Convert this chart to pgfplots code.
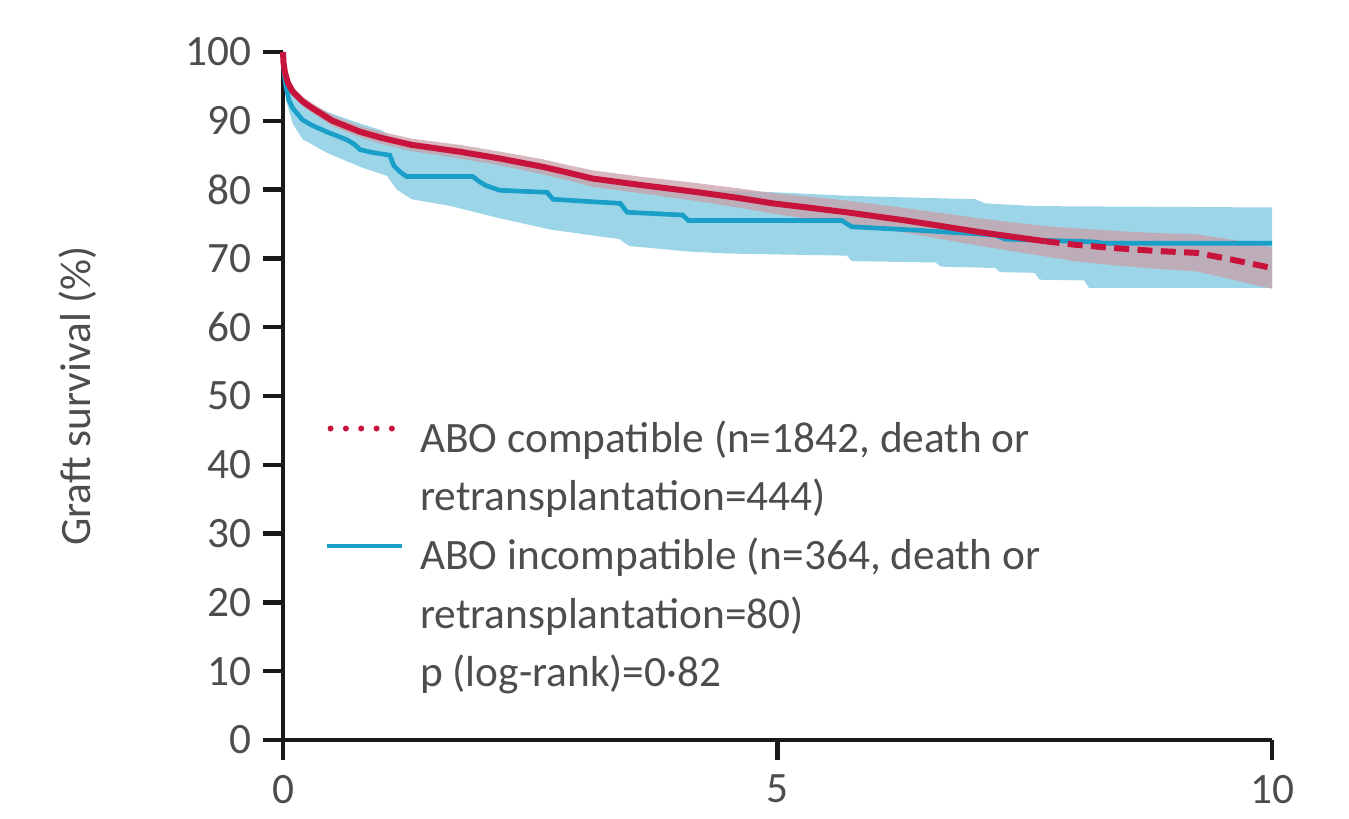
\documentclass[border=0pt]{standalone}
\usepackage{fontspec}
\setmainfont{Carlito}
\usepackage{pgfplots}
\pgfplotsset{compat=1.18}
\usepgfplotslibrary{fillbetween}
\definecolor{abored}{HTML}{C8143C}
\definecolor{aboblue}{HTML}{1A9FC9}
\definecolor{blueband}{HTML}{9DD5E8}
\definecolor{redband}{HTML}{C9A0A8}
\definecolor{txt}{HTML}{4D4D4D}

\begin{document}
\begin{tikzpicture}[font=\fontsize{13}{15}\selectfont]
\begin{axis}[
  scale only axis, width=296.7pt, height=206.4pt,
  xmin=0, xmax=10, ymin=0, ymax=100,
  axis x line*=bottom, axis y line*=left,
  axis line style={line width=1.4pt, black!90},
  xtick={0,5,10}, ytick={0,10,...,100},
  tick align=outside, major tick length=6pt,
  tick style={line width=1.3pt, black!90},
  tick label style={text=txt},
  /pgf/number format/assume math mode=true,
  xticklabel style={yshift=-1pt},
  ylabel={Graft survival (\%)},
  ylabel style={at={(axis description cs:-0.2073,0.5)}, anchor=center,
                text=txt},
  clip=false,
  legend style={at={(0.0425,0.4646)}, anchor=north west, draw=none,
    fill=none, inner sep=0pt, outer sep=0pt, row sep=5.1pt,
    column sep=4.5pt, text=txt,
    nodes={inner sep=0pt, text height=9.5pt, text depth=3pt}},
  legend cell align=left,
]
% 95% band, ABO incompatible
\addplot[draw=none, name path=bl, forget plot] coordinates {
 (0,100) (0.03,93) (0.1,89.5) (0.2,87.3) (0.45,85.3) (0.8,83.2) (1.05,82)
 (1.15,80) (1.3,78.6) (1.7,77.6) (2.2,75.8) (2.7,74.2) (3.0,73.6)
 (3.4,72.8) (3.5,71.8) (4.1,71.0) (4.5,70.7) (5.7,70.4) (5.75,69.6)
 (6.6,69.4) (6.65,68.8) (7.2,68.6) (7.25,68.0) (7.6,67.9) (7.65,66.9)
 (8.1,66.8) (8.15,65.7) (10,65.7)};
\addplot[draw=none, name path=bu, forget plot] coordinates {
 (0,100) (0.03,97) (0.1,94.5) (0.2,92.8) (0.5,91) (0.8,89.5) (1.0,88.6)
 (1.2,86.3) (2.0,85) (2.7,83) (3.5,81) (4.1,80) (5.0,79.6) (5.7,79.1)
 (7.0,78.6) (7.1,78.0) (7.6,77.6) (10,77.4)};
\addplot[blueband, forget plot] fill between[of=bl and bu];
% 95% band, ABO compatible
\addplot[draw=none, name path=rl, forget plot] coordinates {
 (0,100) (0.005,98.2) (0.02,96.5) (0.05,94.9) (0.1,93.5) (0.2,92.1)
 (0.3,91.1) (0.5,89.2) (0.78,87.6) (1.0,86.6) (1.3,85.6) (1.79,84.5)
 (2.2,83.5) (2.63,82.2) (2.9,81.3) (3.13,80.4) (3.6,79.5) (4.15,78.4)
 (4.6,77.4) (4.95,76.5) (5.3,75.8) (5.7,75.0) (6.3,73.7) (6.7,72.7)
 (7.05,71.8) (7.7,70.3) (8.0,69.6) (8.4,69.0) (8.8,68.5) (9.24,68.1)
 (9.6,66.9) (9.8,66.2) (10,65.6)};
\addplot[draw=none, name path=ru, forget plot] coordinates {
 (0,100) (0.005,98.8) (0.02,97.5) (0.05,96.1) (0.1,94.9) (0.2,93.5)
 (0.3,92.5) (0.5,90.8) (0.78,89.2) (1.0,88.4) (1.3,87.4) (1.79,86.5)
 (2.2,85.5) (2.63,84.4) (2.9,83.5) (3.13,82.8) (3.6,81.9) (4.15,81.0)
 (4.6,80.2) (4.95,79.5) (5.3,79.0) (5.7,78.4) (6.3,77.3) (6.7,76.5)
 (7.05,75.8) (7.7,74.7) (8.0,74.4) (8.4,74.0) (8.8,73.7) (9.24,73.5)
 (9.6,72.7) (9.8,72.2) (10,71.6)};
\addplot[redband, fill opacity=0.75, forget plot] fill between[of=rl and ru];
% survival curves
\addplot[aboblue, line width=1.4pt, forget plot] coordinates {
 (0,100) (0.01,97) (0.03,95) (0.06,93) (0.1,91.8) (0.2,90.1) (0.3,89.3)
 (0.44,88.4) (0.55,87.8) (0.65,87.2) (0.72,86.6) (0.78,85.8) (0.9,85.4)
 (1.08,85.0) (1.12,83.5) (1.18,82.6) (1.25,81.9) (1.92,81.9) (1.98,81.2)
 (2.05,80.6) (2.19,79.9) (2.67,79.6) (2.73,78.6) (3.05,78.3) (3.41,78.0)
 (3.48,76.7) (4.04,76.3) (4.1,75.5) (5.65,75.5) (5.75,74.6) (6.4,74.1)
 (7.2,73.4) (7.3,72.8) (8.2,72.4) (8.3,72.2) (10,72.2)};
\addplot[abored, line width=1.8pt, forget plot] coordinates {
 (0,100) (0.005,98.5) (0.02,97) (0.05,95.5) (0.1,94.2) (0.2,92.8)
 (0.3,91.8) (0.5,90) (0.78,88.4) (1.0,87.5) (1.3,86.5) (1.79,85.5)
 (2.2,84.5) (2.63,83.3) (2.9,82.4) (3.13,81.6) (3.6,80.7) (4.15,79.7)
 (4.6,78.8) (4.95,78.0) (5.3,77.4) (5.7,76.7) (6.3,75.5) (6.7,74.6)
 (7.05,73.8) (7.7,72.5)};
\addplot[abored, line width=1.8pt, forget plot,
         dash pattern=on 4.5pt off 2.5pt] coordinates {
 (7.7,72.5) (8.0,72.0) (8.4,71.5) (8.8,71.1) (9.24,70.8) (9.6,69.8)
 (9.8,69.2) (10,68.6)};
% legend
\addlegendimage{legend image code/.code={\draw[abored, line width=1.8pt,
  line cap=round, dash pattern=on 0pt off 4.6pt] (1pt,3.8pt) -- (22.5pt,3.8pt);}}
\addlegendentry{ABO compatible (n=1842, death or}
\addlegendimage{legend image code/.code={}}
\addlegendentry{retransplantation=444)}
\addlegendimage{legend image code/.code={\draw[aboblue, line width=1.3pt]
  (0pt,3.8pt) -- (22.5pt,3.8pt);}}
\addlegendentry{ABO incompatible (n=364, death or}
\addlegendimage{legend image code/.code={}}
\addlegendentry{retransplantation=80)}
\addlegendimage{legend image code/.code={}}
\addlegendentry{p (log-rank)=0·82}
\end{axis}
\path (current axis.south west) ++(-84.9pt,-23.7pt) rectangle ++(404.7pt,245.7pt);
\end{tikzpicture}
\end{document}
